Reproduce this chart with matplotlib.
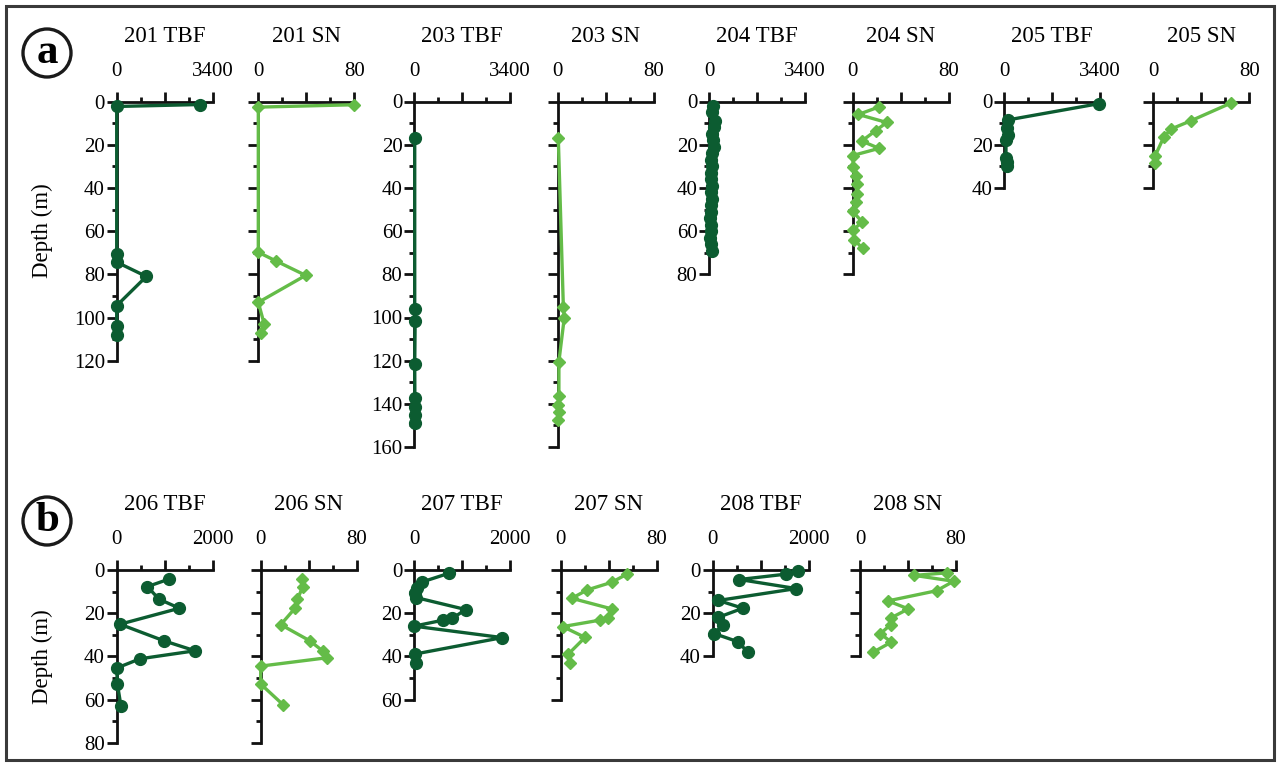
import matplotlib
matplotlib.use("Agg")
import matplotlib.pyplot as plt
from matplotlib.patches import Ellipse, Rectangle

plt.rcParams["font.family"] = ["Liberation Serif", "DejaVu Serif"]

VERDE_ESCURO = "#0c5c31"   # TBF
VERDE_CLARO = "#64bc48"    # SN

# ---------------------------------------------------------------- dados
# profundidade (m) e valor
prof_201_tbf = [1.4, 2.3, 70.5, 74.5, 81, 94.5, 104, 108]
tbf_201 = [2950, 0, 0, 20, 1050, 0, 0, 0]
prof_201_sn = [1.5, 2.6, 69.8, 73.9, 80.5, 93, 103.2, 107]
sn_201 = [80, 0, 0, 15, 39.5, 0, 5, 2]

prof_203_tbf = [17, 96, 101.5, 121.5, 137.5, 141.3, 145.2, 149]
tbf_203 = [15, 15, 30, 15, 20, 20, 25, 20]
prof_203_sn = [17, 95, 100, 120.4, 136.4, 140.6, 143.7, 147.3]
sn_203 = [0.5, 4.7, 5.5, 1, 1, 0.5, 1, 0.5]

prof_204_tbf = [2, 5, 9, 12, 15, 18, 21, 24, 27, 30, 33, 36,
                39, 42, 45, 48, 51, 54, 57, 60, 63, 66, 69]
tbf_204 = [120, 90, 200, 150, 110, 130, 160, 80, 60, 100, 70, 50,
           90, 60, 80, 50, 70, 40, 60, 50, 30, 60, 90]
prof_204_sn = [2.5, 6, 9.7, 13.5, 18.3, 21.7, 25, 30.3, 34.3, 38, 42.7,
               46.3, 50.9, 55.8, 59.3, 63.9, 68]
sn_204 = [22, 4.7, 28.3, 19.2, 7.5, 22, 0, 0.5, 2.5, 3.3, 3.9,
          2.8, 0, 8, 0.5, 1, 8.3]

prof_205_tbf = [1, 8.5, 12.4, 15.5, 17.8, 26, 27.9, 29.9]
tbf_205 = [3350, 140, 82, 117, 59, 59, 82, 82]
prof_205_sn = [0.8, 9, 12.7, 16.3, 25.3, 28.4]
sn_205 = [64.4, 31, 15, 8.9, 1.4, 1.4]

prof_206_tbf = [4.2, 7.7, 13.5, 17.7, 25.1, 32.8, 37.4, 41.1, 45.4, 52.8, 63.1]
tbf_206 = [1090, 639, 882, 1306, 69, 986, 1632, 486, 0, 14, 90]
prof_206_sn = [4.2, 7.8, 13.6, 17.7, 25.3, 32.8, 37.5, 40.6, 44.5, 52.8, 62.5]
sn_206 = [34.2, 35, 30.6, 28.6, 16.7, 41, 51.7, 55.6, 0, 0, 18.9]

prof_207_tbf = [1.5, 5.6, 8.5, 10.5, 12.8, 18.3, 22.4, 23.2, 26, 31.3, 38.9, 43.2]
tbf_207 = [729, 160, 60, 30, 50, 1076, 799, 611, 0, 1840, 21, 42]
prof_207_sn = [1.8, 5.7, 9.2, 13.1, 18, 22.3, 23.2, 26.2, 31.2, 38.9, 43.1]
sn_207 = [55.6, 42.5, 22.2, 9.2, 42.5, 39.7, 32.8, 1.7, 20.3, 6.4, 7.8]

prof_208_tbf = [0.5, 1.9, 4.4, 8.6, 14.1, 17.7, 21.9, 25.3, 29.4, 33.3, 38]
tbf_208 = [1770, 1533, 557, 1742, 118, 627, 118, 223, 28, 537, 725]
prof_208_sn = [1.3, 2.5, 5.2, 9.6, 14.3, 18, 22.1, 25.3, 29.5, 33.4, 38.1]
sn_208 = [72.3, 45.4, 78, 63.8, 23.3, 40.3, 26.1, 25.5, 17, 26.1, 10.8]

# ---------------------------------------------------------------- layout
W, H = 1277, 763
fig = plt.figure(figsize=(W / 100, H / 100), dpi=100)
fig.patch.set_facecolor("white")

PX_M = 2.16      # pixels por metro de profundidade
LARG = 96        # largura de cada painel em pixels


def painel(x0, y0, titulo, prof, val, xmax, ymax, tipo):
    h = ymax * PX_M
    ax = fig.add_axes([x0 / W, 1 - (y0 + h) / H, LARG / W, h / H])
    ax.set_xlim(0, xmax)
    ax.set_ylim(ymax, 0)
    for lado in ("right", "bottom"):
        ax.spines[lado].set_visible(False)
    for lado in ("left", "top"):
        ax.spines[lado].set_linewidth(2.0)
        ax.spines[lado].set_color("#111111")
    ax.patch.set_alpha(0)

    ax.xaxis.tick_top()
    ax.set_xticks([0, xmax / 2, xmax], ["0", "", str(xmax)])
    ax.set_xticks([xmax / 4, 3 * xmax / 4], minor=True)
    ax.set_yticks(range(0, ymax + 1, 20))
    ax.set_yticks(range(10, ymax, 20), minor=True)
    ax.tick_params(which="both", direction="out", width=2.0, color="#111111",
                   labelsize=15)
    ax.tick_params(which="major", length=7.5)
    ax.tick_params(which="minor", length=3.5)
    ax.tick_params(axis="x", pad=7.5)
    ax.tick_params(axis="y", pad=1, labelleft=(tipo == "TBF"))

    if tipo == "TBF":
        ax.plot(val, prof, "-o", color=VERDE_ESCURO, lw=2.4, ms=8.5,
                clip_on=False, zorder=3)
    else:
        ax.plot(val, prof, "-D", color=VERDE_CLARO, lw=2.4, ms=6.3,
                clip_on=False, zorder=3)

    ax.annotate(titulo, xy=(0.5, 1), xycoords="axes fraction",
                xytext=(0, 43), textcoords="offset points",
                ha="center", va="baseline", fontsize=16.5)
    return ax


# linha (a)
Y_A = 101.5
painel(116.7, Y_A, "201 TBF", prof_201_tbf, tbf_201, 3400, 120, "TBF")
painel(258.3, Y_A, "201 SN", prof_201_sn, sn_201, 80, 120, "SN")
painel(414.3, Y_A, "203 TBF", prof_203_tbf, tbf_203, 3400, 160, "TBF")
painel(557.7, Y_A, "203 SN", prof_203_sn, sn_203, 80, 160, "SN")
painel(709.3, Y_A, "204 TBF", prof_204_tbf, tbf_204, 3400, 80, "TBF")
painel(852.7, Y_A, "204 SN", prof_204_sn, sn_204, 80, 80, "SN")
painel(1004.3, Y_A, "205 TBF", prof_205_tbf, tbf_205, 3400, 40, "TBF")
painel(1153.3, Y_A, "205 SN", prof_205_sn, sn_205, 80, 40, "SN")

# linha (b)
Y_B = 570
painel(116.7, Y_B, "206 TBF", prof_206_tbf, tbf_206, 2000, 80, "TBF")
painel(260.7, Y_B, "206 SN", prof_206_sn, sn_206, 80, 80, "SN")
painel(414.0, Y_B, "207 TBF", prof_207_tbf, tbf_207, 2000, 60, "TBF")
painel(560.7, Y_B, "207 SN", prof_207_sn, sn_207, 80, 60, "SN")
painel(712.7, Y_B, "208 TBF", prof_208_tbf, tbf_208, 2000, 40, "TBF")
painel(860.0, Y_B, "208 SN", prof_208_sn, sn_208, 80, 40, "SN")

# rótulos de profundidade
fig.text(42 / W, 1 - (Y_A + 60 * PX_M) / H, "Depth (m)", rotation=90,
         ha="center", va="center", fontsize=16.5)
fig.text(42 / W, 1 - (Y_B + 40 * PX_M) / H, "Depth (m)", rotation=90,
         ha="center", va="center", fontsize=16.5)

# letras circuladas
for letra, (cx, cy) in (("a", (47, 53)), ("b", (47, 521))):
    fig.patches.append(Ellipse((cx / W, 1 - cy / H), 48 / W, 48 / H,
                               transform=fig.transFigure, fill=False,
                               lw=2.4, ec="#1a1a1a"))
    fig.text(cx / W, 1 - cy / H, letra, ha="center", va="center",
             fontsize=31, fontweight="bold")

# moldura
fig.patches.append(Rectangle((6 / W, 3 / H), 1268 / W, 754 / H,
                             transform=fig.transFigure, fill=False,
                             lw=2.2, ec="#3a3a3a"))

fig.savefig("out.png", dpi=100, facecolor="white")
